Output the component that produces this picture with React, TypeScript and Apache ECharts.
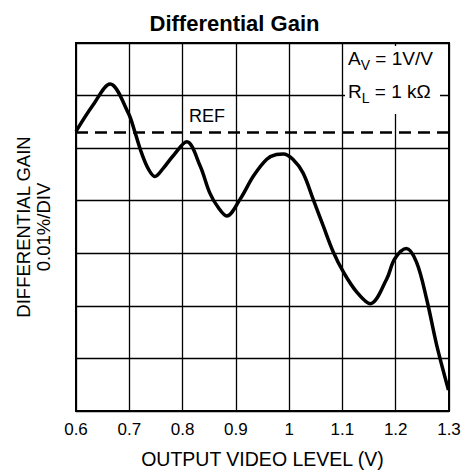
import React, { useEffect, useRef } from "react";
import * as echarts from "echarts";

const xTickLabels = ["0.6", "0.7", "0.8", "0.9", "1", "1.1", "1.2", "1.3"];
const curveX = [0.6, 0.632, 0.664, 0.698, 0.711, 0.723, 0.736, 0.748, 0.764, 0.782, 0.808, 0.833, 0.851, 0.867, 0.883, 0.908, 0.933, 0.958, 0.976, 0.989, 1.007, 1.026, 1.045, 1.064, 1.083, 1.102, 1.127, 1.152, 1.183, 1.198, 1.22, 1.239, 1.258, 1.277, 1.299];
const curveY = [5.32, 5.82, 6.22, 5.67, 5.29, 4.91, 4.6, 4.46, 4.62, 4.85, 5.12, 4.66, 4.15, 3.87, 3.71, 4.03, 4.47, 4.79, 4.88, 4.89, 4.79, 4.53, 4.03, 3.52, 3.02, 2.64, 2.26, 2.04, 2.51, 2.89, 3.09, 2.83, 2.13, 1.25, 0.4];
const refLevel = 5.31;

const FONT = "'Liberation Sans', Arial, sans-serif";

export default function App() {
  const ref = useRef<HTMLDivElement>(null);
  useEffect(() => {
    if (!ref.current) return;
    const chart = echarts.init(ref.current, null, { renderer: "svg" });
    const data = curveX.map((x, i) => [x, curveY[i]]);
    chart.setOption({
      animation: false,
      backgroundColor: "#fff",
      title: {
        text: "Differential Gain",
        left: "center",
        top: 7,
        textStyle: { fontFamily: FONT, fontWeight: "bold", fontSize: 22, color: "#000" },
      },
      grid: { left: 76, right: 20, top: 43, bottom: 61, show: true, borderColor: "#000", borderWidth: 2 },
      xAxis: {
        type: "value",
        min: 0.6,
        max: 1.3,
        interval: 0.1,
        axisLine: { show: true, lineStyle: { color: "#000", width: 2 } },
        axisTick: { show: false },
        splitLine: { show: true, lineStyle: { color: "#000", width: 1.3 } },
        axisLabel: {
          color: "#000",
          fontFamily: FONT,
          fontSize: 17,
          margin: 10,
          formatter: (v: number) => xTickLabels[Math.round((v - 0.6) * 10)] ?? "",
        },
        name: "OUTPUT VIDEO LEVEL (V)",
        nameLocation: "middle",
        nameGap: 38,
        nameTextStyle: { color: "#000", fontFamily: FONT, fontSize: 19.5 },
      },
      yAxis: {
        type: "value",
        min: 0,
        max: 7,
        interval: 1,
        axisLine: { show: true, lineStyle: { color: "#000", width: 2 } },
        axisTick: { show: false },
        axisLabel: { show: false },
        splitLine: { show: true, lineStyle: { color: "#000", width: 1.3 } },
        name: "DIFFERENTIAL GAIN\n0.01%/DIV",
        nameLocation: "middle",
        nameGap: 23,
        nameTextStyle: { color: "#000", fontFamily: FONT, fontSize: 18.5, lineHeight: 20 },
      },
      graphic: [
        {
          type: "rect",
          left: 345,
          top: 46,
          shape: { width: 95, height: 68 },
          style: { fill: "#fff" },
          z: 50,
        },
        {
          type: "text",
          left: 348,
          top: 49,
          z: 51,
          style: {
            text: "{a|A}{s|V}{a| = 1V/V}",
            rich: {
              a: { fontFamily: FONT, fontSize: 19, fill: "#000" },
              s: { fontFamily: FONT, fontSize: 14, fill: "#000", padding: [12, 0, 0, 0] },
            },
          },
        },
        {
          type: "text",
          left: 348,
          top: 82,
          z: 51,
          style: {
            text: "{a|R}{s|L}{a| = 1 kΩ}",
            rich: {
              a: { fontFamily: FONT, fontSize: 19, fill: "#000" },
              s: { fontFamily: FONT, fontSize: 14, fill: "#000", padding: [12, 0, 0, 0] },
            },
          },
        },
        {
          type: "text",
          left: 189,
          top: 107,
          z: 51,
          style: { text: "REF", fontFamily: FONT, fontSize: 18, fill: "#000" },
        },
      ],
      series: [
        {
          type: "line",
          data,
          smooth: 0.35,
          showSymbol: false,
          lineStyle: { color: "#000", width: 3.5 },
          z: 4,
          markLine: {
            silent: true,
            symbol: ["none", "none"],
            label: { show: false },
            lineStyle: { color: "#000", width: 2.5, type: [12, 7] },
            data: [{ yAxis: refLevel }],
          },
        },
      ],
    });
    return () => chart.dispose();
  }, []);
  return <div ref={ref} style={{ width: 469, height: 474, position: "absolute", left: 0, top: 0 }} />;
}
